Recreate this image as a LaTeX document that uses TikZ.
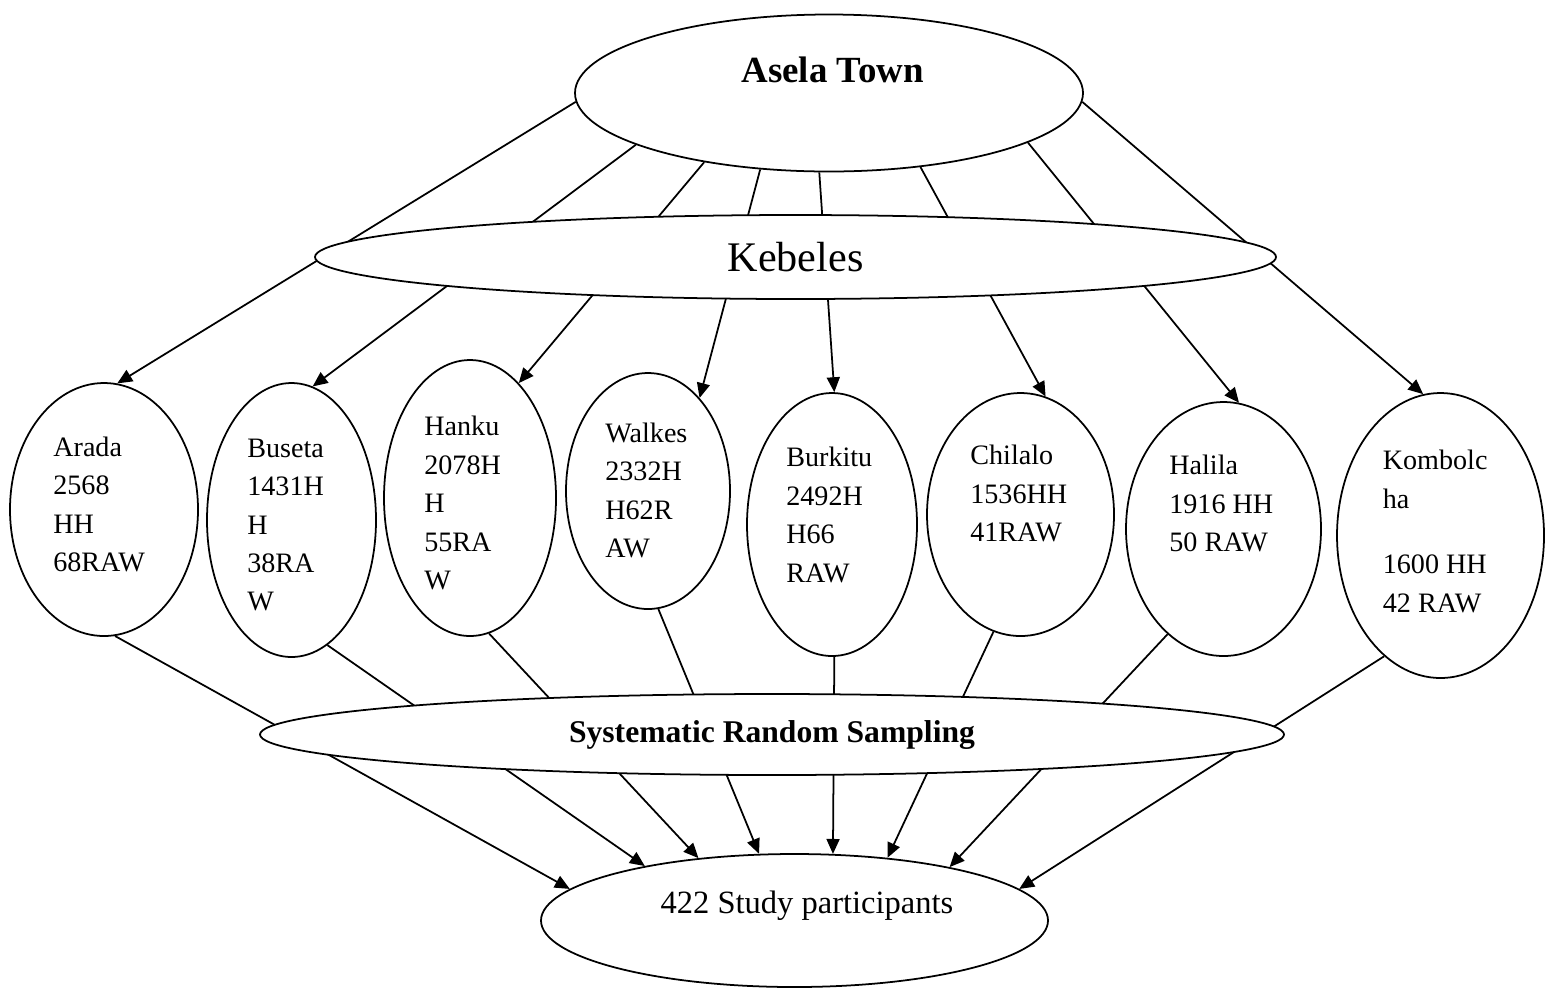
\documentclass[tikz,border=0pt]{standalone}
\usepackage{fontspec}
\setmainfont{Liberation Serif}
\usepackage{tikz}
\usetikzlibrary{shapes.geometric, arrows.meta, backgrounds, positioning}
\tikzstyle{oval} = [ellipse, draw=black, line width=1pt, fill=white, inner sep=0pt]
\tikzstyle{kebtxt} = [align=left, anchor=west, inner sep=0pt, font=\fontsize{16}{21.9}\selectfont]
\tikzstyle{line} = [line width=1pt]
\tikzstyle{arrow} = [line width=1pt, -{Triangle[length=8.5pt, width=7.4pt]}]

\begin{document}
\begin{tikzpicture}[node distance=3.6cm]
		\useasboundingbox (0,0) rectangle (30.9,-19.76);
		% town and kebeles
		\node (asela) [oval, minimum width=10.16cm, minimum height=3.14cm] at (16.58,-1.86) {};
		\node (aselatxt) [font=\fontsize{21}{25}\selectfont\bfseries, xshift=0.07cm, yshift=0.47cm] at (asela) {Asela Town};
		\node (kebeles) [oval, minimum width=19.22cm, minimum height=1.68cm, below of=asela, xshift=-0.67cm, yshift=0.32cm, font=\fontsize{24}{28}\selectfont] {Kebeles};
		% one oval per kebele
		\node (arada) [oval, minimum width=3.76cm, minimum height=5.06cm] at (2.08,-10.19) {};
		\node (buseta) [oval, minimum width=3.38cm, minimum height=5.48cm, right of=arada, xshift=0.15cm, yshift=-0.21cm] {};
		\node (hanku) [oval, minimum width=3.44cm, minimum height=5.52cm, right of=buseta, xshift=-0.03cm, yshift=0.44cm] {};
		\node (walkes) [oval, minimum width=3.28cm, minimum height=4.72cm, right of=hanku, xshift=-0.04cm, yshift=0.14cm] {};
		\node (burkitu) [oval, minimum width=3.40cm, minimum height=5.26cm, right of=walkes, xshift=0.08cm, yshift=-0.67cm] {};
		\node (chilalo) [oval, minimum width=3.74cm, minimum height=4.86cm, right of=burkitu, xshift=0.17cm, yshift=0.20cm] {};
		\node (halila) [oval, minimum width=3.90cm, minimum height=5.08cm, right of=chilalo, xshift=0.46cm, yshift=-0.29cm] {};
		\node (kombolcha) [oval, minimum width=4.14cm, minimum height=5.70cm, right of=halila, xshift=0.74cm, yshift=-0.13cm] {};
		\node (aradatxt) [kebtxt, xshift=-1.02cm, yshift=0.10cm] at (arada) {Arada\\2568\\HH\\68RAW};
		\node (busetatxt) [kebtxt, xshift=-0.89cm, yshift=-0.10cm] at (buseta) {Buseta\\1431H\\H\\38RA\\W};
		\node (hankutxt) [kebtxt, xshift=-0.92cm, yshift=-0.10cm] at (hanku) {Hanku\\2078H\\H\\55RA\\W};
		\node (walkestxt) [kebtxt, xshift=-0.86cm, yshift=0.01cm] at (walkes) {Walkes\\2332H\\H62R\\AW};
		\node (burkitutxt) [kebtxt, xshift=-0.92cm, yshift=0.19cm] at (burkitu) {Burkitu\\2492H\\H66\\RAW};
		\node (chilalotxt) [kebtxt, xshift=-1.01cm, yshift=0.42cm] at (chilalo) {Chilalo\\1536HH\\41RAW};
		\node (halilatxt) [kebtxt, xshift=-1.09cm, yshift=0.51cm] at (halila) {Halila\\1916 HH\\50 RAW};
		\node (kombolchatxt) [kebtxt, xshift=-1.16cm, yshift=0.08cm] at (kombolcha) {Kombolc\\ha\\[0.54cm]1600 HH\\42 RAW};
		% sampling and participants
		\node (sampling) [oval, minimum width=20.48cm, minimum height=1.62cm, font=\fontsize{18}{22}\selectfont\bfseries] at (15.44,-14.69) {Systematic Random Sampling};
		\node (study) [oval, minimum width=10.14cm, minimum height=2.66cm, below of=sampling, xshift=0.45cm, yshift=-0.12cm] {};
		\node (studytxt) [font=\fontsize{18.5}{22}\selectfont, xshift=0.25cm, yshift=0.29cm] at (study) {422 Study participants};
		\begin{scope}[on background layer]
		\draw [arrow] (asela.182) -- (arada.84);
		\draw [arrow] (asela.195) -- (buseta.81);
		\draw [arrow] (asela.209) -- (hanku.67);
		\draw [arrow] (asela.228) -- (walkes.61);
		\draw [arrow] (asela.263) -- (burkitu.89);
		\draw [arrow] (asela.321) -- (chilalo.78);
		\draw [arrow] (asela.346) -- (halila.83);
		\draw [arrow] (asela.358) -- (kombolcha.97);
		\draw [arrow] (arada.275) -- (study.172);
		\draw [arrow] (buseta.286) -- (study.160);
		\draw [arrow] (hanku.278) -- (study.147);
		\draw [arrow] (walkes.275) -- (study.118);
		\draw [arrow] (burkitu.271) -- (study.60);
		\draw [arrow] (chilalo.257) -- (study.34);
		\draw [arrow] (halila.242) -- (study.19);
		\draw [arrow] (kombolcha.245) -- (study.8);
		\end{scope}
\end{tikzpicture}
\end{document}
